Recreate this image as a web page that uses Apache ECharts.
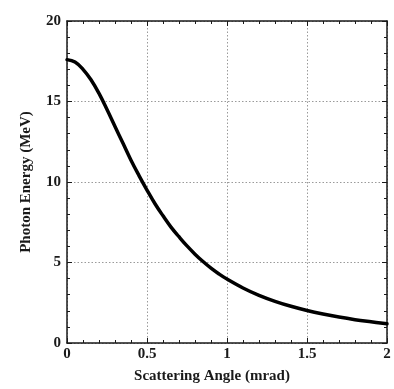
<!DOCTYPE html>
<html>
<head>
<meta charset="utf-8">
<script src="https://cdn.jsdelivr.net/npm/echarts@6/dist/echarts.min.js"></script>
<style>
  html, body { margin: 0; padding: 0; background: #fff; }
  #chart { width: 394px; height: 389px; }
</style>
</head>
<body>
<div id="chart"></div>
<script>
// Scattered photon energy versus scattering angle
const angle = [0, 0.05, 0.1, 0.15, 0.2, 0.25, 0.3, 0.35, 0.4, 0.45, 0.5, 0.55,
               0.6, 0.65, 0.7, 0.75, 0.8, 0.85, 0.9, 0.95, 1.0,
               1.1, 1.2, 1.3, 1.4, 1.5, 1.6, 1.7, 1.8, 1.9, 2.0];
const energy = [17.6, 17.45, 17.0, 16.35, 15.5, 14.5, 13.45, 12.4, 11.35, 10.4, 9.5, 8.65,
                7.9, 7.2, 6.6, 6.03, 5.52, 5.06, 4.65, 4.29, 3.97,
                3.42, 2.96, 2.59, 2.28, 2.02, 1.8, 1.61, 1.45, 1.32, 1.2];
const xTicks = [0, 0.5, 1, 1.5, 2];
const yTicks = [0, 5, 10, 15, 20];
const xTitle = 'Scattering Angle (mrad)';
const yTitle = 'Photon Energy (MeV)';

const FONT = '"Liberation Serif", "DejaVu Serif", serif';
const INK = '#1a1a1a';

const frameLine = { show: true, onZero: false, lineStyle: { color: INK, width: 1.5 } };
const inTicks = { show: true, inside: true, length: 5, lineStyle: { color: INK, width: 1 } };
const inMinor = { show: true, splitNumber: 5, length: 3, lineStyle: { color: INK, width: 1 } };
const dotted = { show: true, lineStyle: { color: '#9a9a9a', width: 1, type: [1.5, 2] } };

const chart = echarts.init(document.getElementById('chart'), null, { renderer: 'canvas' });
chart.setOption({
  animation: false,
  backgroundColor: '#fff',
  grid: { left: 67, right: 7, top: 21, bottom: 46, containLabel: false },
  xAxis: [
    {
      type: 'value', min: xTicks[0], max: xTicks[xTicks.length - 1], interval: 0.5,
      position: 'bottom',
      axisLine: frameLine, axisTick: inTicks, minorTick: inMinor,
      splitLine: dotted,
      axisLabel: {
        margin: 4, color: INK, fontFamily: FONT, fontWeight: 'bold', fontSize: 15,
        formatter: v => String(v)
      }
    },
    {
      type: 'value', min: xTicks[0], max: xTicks[xTicks.length - 1], interval: 0.5,
      position: 'top',
      axisLine: frameLine, axisTick: inTicks, minorTick: inMinor,
      splitLine: { show: false }, axisLabel: { show: false }
    }
  ],
  yAxis: [
    {
      type: 'value', min: yTicks[0], max: yTicks[yTicks.length - 1], interval: 5,
      position: 'left',
      axisLine: frameLine, axisTick: inTicks, minorTick: inMinor,
      splitLine: dotted,
      axisLabel: {
        margin: 6, color: INK, fontFamily: FONT, fontWeight: 'bold', fontSize: 15
      }
    },
    {
      type: 'value', min: yTicks[0], max: yTicks[yTicks.length - 1], interval: 5,
      position: 'right',
      axisLine: frameLine, axisTick: inTicks, minorTick: inMinor,
      splitLine: { show: false }, axisLabel: { show: false }
    }
  ],
  series: [
    {
      type: 'line',
      xAxisIndex: 0, yAxisIndex: 0,
      data: angle.map((a, i) => [a, energy[i]]),
      smooth: 0.4,
      showSymbol: false,
      lineStyle: { color: '#000', width: 3.5, join: 'round', cap: 'round' },
      clip: true
    }
  ],
  graphic: [
    {
      type: 'text', x: 212, y: 376,
      style: {
        text: xTitle, fill: INK, font: 'bold 15px ' + FONT,
        align: 'center', verticalAlign: 'middle'
      }
    },
    {
      type: 'text', x: 26, y: 182, rotation: Math.PI / 2,
      style: {
        text: yTitle, fill: INK, font: 'bold 15px ' + FONT,
        align: 'center', verticalAlign: 'middle'
      }
    }
  ]
});
</script>
</body>
</html>
